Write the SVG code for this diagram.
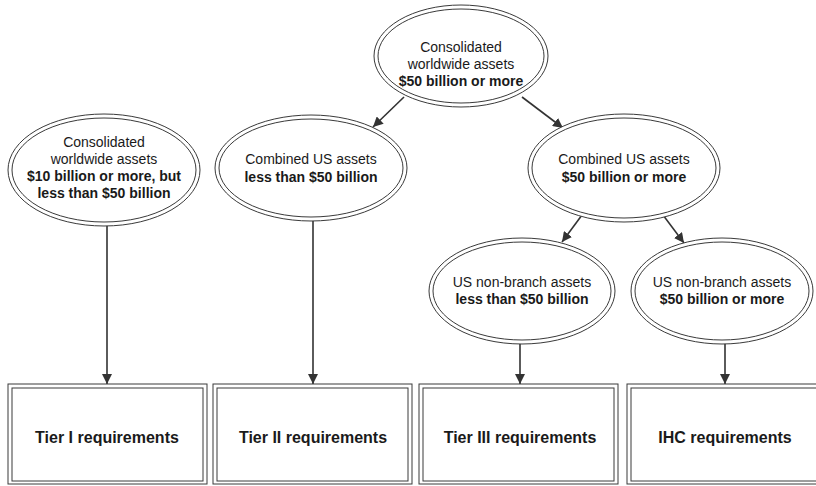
<svg xmlns="http://www.w3.org/2000/svg" width="816" height="486" viewBox="0 0 816 486">
<style>
.o{fill:#fff;stroke:#3a3a3a;stroke-width:1}
.i{fill:none;stroke:#3a3a3a;stroke-width:1}
.t{font-family:"Liberation Sans",Arial,sans-serif;font-size:14px;fill:#1a1a1a;text-anchor:middle}
.b{font-weight:bold}
.bx{font-size:16px}
.c{stroke:#333;stroke-width:1.6;fill:none;marker-end:url(#ah)}
</style>
<defs>
<marker id="ah" viewBox="0 0 10 10" refX="10" refY="5" markerWidth="10" markerHeight="10" markerUnits="userSpaceOnUse" orient="auto">
<path d="M0,0 L10,5 L0,10 z" fill="#333"/>
</marker>
</defs>
<rect width="816" height="486" fill="#fff"/>
<g id="connectors">
<line class="c" x1="404" y1="97" x2="373" y2="127"/>
<line class="c" x1="522" y1="97" x2="563" y2="128"/>
<line class="c" x1="582" y1="215" x2="562" y2="242"/>
<line class="c" x1="663" y1="215" x2="684" y2="243"/>
<line class="c" x1="107" y1="225" x2="107" y2="384"/>
<line class="c" x1="313" y1="221" x2="313" y2="384"/>
<line class="c" x1="520" y1="342" x2="520" y2="384"/>
<line class="c" x1="725" y1="342" x2="725" y2="384"/>
</g>
<g id="top">
<ellipse class="o" cx="461" cy="56" rx="87" ry="51"/>
<ellipse class="i" cx="461" cy="56" rx="83" ry="47"/>
<text class="t" x="461" y="52">Consolidated</text>
<text class="t" x="461" y="69">worldwide assets</text>
<text class="t b" x="461" y="86">$50 billion or more</text>
</g>
<g id="left">
<ellipse class="o" cx="104" cy="170" rx="96" ry="56"/>
<ellipse class="i" cx="104" cy="170" rx="92" ry="52"/>
<text class="t" x="104" y="147">Consolidated</text>
<text class="t" x="104" y="164">worldwide assets</text>
<text class="t b" x="104" y="181">$10 billion or more, but</text>
<text class="t b" x="104" y="198">less than $50 billion</text>
</g>
<g id="combined-less">
<ellipse class="o" cx="311" cy="168" rx="96" ry="53"/>
<ellipse class="i" cx="311" cy="168" rx="92" ry="49"/>
<text class="t" x="311" y="164">Combined US assets</text>
<text class="t b" x="311" y="182">less than $50 billion</text>
</g>
<g id="combined-more">
<ellipse class="o" cx="624" cy="168" rx="96" ry="54"/>
<ellipse class="i" cx="624" cy="168" rx="92" ry="50"/>
<text class="t" x="624" y="164">Combined US assets</text>
<text class="t b" x="624" y="182">$50 billion or more</text>
</g>
<g id="nonbranch-less">
<ellipse class="o" cx="522" cy="291" rx="93" ry="53"/>
<ellipse class="i" cx="522" cy="291" rx="89" ry="49"/>
<text class="t" x="522" y="287">US non-branch assets</text>
<text class="t b" x="522" y="304">less than $50 billion</text>
</g>
<g id="nonbranch-more">
<ellipse class="o" cx="722" cy="291" rx="91" ry="53"/>
<ellipse class="i" cx="722" cy="291" rx="87" ry="49"/>
<text class="t" x="722" y="287">US non-branch assets</text>
<text class="t b" x="722" y="304">$50 billion or more</text>
</g>
<g id="tier1">
<rect class="o" x="8" y="384" width="199" height="100"/>
<rect class="i" x="12" y="388" width="191" height="93"/>
<text class="t b bx" x="107" y="443">Tier I requirements</text>
</g>
<g id="tier2">
<rect class="o" x="213" y="384" width="199" height="100"/>
<rect class="i" x="217" y="388" width="191" height="93"/>
<text class="t b bx" x="313" y="443">Tier II requirements</text>
</g>
<g id="tier3">
<rect class="o" x="419" y="384" width="199" height="100"/>
<rect class="i" x="423" y="388" width="191" height="93"/>
<text class="t b bx" x="520" y="443">Tier III requirements</text>
</g>
<g id="ihc">
<rect class="o" x="627" y="384" width="199" height="100"/>
<rect class="i" x="631" y="388" width="191" height="93"/>
<text class="t b bx" x="725" y="443">IHC requirements</text>
</g>
</svg>
